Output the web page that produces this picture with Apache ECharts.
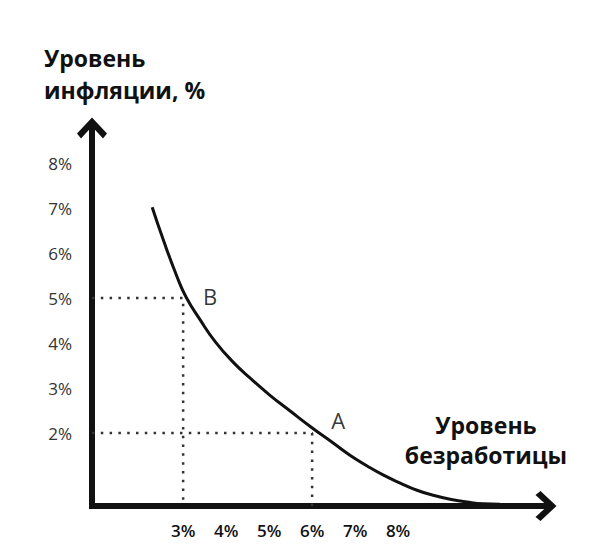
<!DOCTYPE html>
<html>
<head>
<meta charset="utf-8">
<script src="https://cdn.jsdelivr.net/npm/echarts@6/dist/echarts.min.js"></script>
<style>
  html, body { margin: 0; padding: 0; background: #fff; }
  #chart { width: 600px; height: 552px; }
</style>
</head>
<body>
<div id="chart"></div>
<script>
// Phillips curve: inflation vs unemployment
var curveX = [2.28, 2.54, 2.86, 3.07, 3.4, 3.74, 4.14, 4.56, 5.02, 5.49, 5.98, 6.49, 6.88, 7.28, 7.65, 8.05, 8.44, 8.81, 9.21, 9.6, 9.98, 10.37];
var curveY = [7.02, 6.29, 5.47, 5.02, 4.51, 4.04, 3.6, 3.22, 2.84, 2.49, 2.13, 1.78, 1.51, 1.27, 1.07, 0.89, 0.73, 0.62, 0.53, 0.47, 0.43, 0.42];

var pointNames = ['B', 'A'];
var pointX = [3, 6];
var pointY = [5, 2];

var xTicks = [3, 4, 5, 6, 7, 8];
var yTicks = [2, 3, 4, 5, 6, 7, 8];

var X_MIN = 0.88, X_MAX = 11.44;
var Y_MIN = 0.38, Y_MAX = 8.78;

(function() {
    var el = document.getElementById('chart');
    var chart = echarts.init(el, null, { renderer: 'svg' });

    var ink = '#111';
    var chevron = 'path://M15,0 L30,16 L26,21 L15,9 L4,21 L0,16 Z';

    var curve = curveX.map(function(x, i) { return [x, curveY[i]]; });
    var points = pointX.map(function(x, i) { return { name: pointNames[i], value: [x, pointY[i]] }; });

    // dotted guides from each point to both axes
    var guides = pointX.map(function(x, i) {
        return {
            type: 'line',
            data: [[X_MIN, pointY[i]], [x, pointY[i]], [x, Y_MIN]],
            showSymbol: false,
            symbol: 'none',
            lineStyle: { color: '#333', width: 2.5, type: [2.5, 6.3] },
            z: 1,
            silent: true,
            animation: false
        };
    });

    var labelOffsets = [[27, -2], [26, -13]];

    chart.setOption({
        grid: { left: 92, right: 54, top: 128, bottom: 46 },
        xAxis: {
            type: 'value',
            min: X_MIN,
            max: X_MAX,
            splitLine: { show: false },
            axisTick: { show: false },
            axisLine: {
                onZero: false,
                symbol: ['none', chevron],
                symbolSize: [30, 22],
                lineStyle: { color: ink, width: 6, cap: 'square' }
            },
            axisLabel: {
                customValues: xTicks,
                margin: 16,
                color: ink,
                fontFamily: 'Open Sans',
                fontWeight: 600,
                fontSize: 17,
                formatter: function(v) { return v + '%'; }
            }
        },
        yAxis: {
            type: 'value',
            min: Y_MIN,
            max: Y_MAX,
            splitLine: { show: false },
            axisTick: { show: false },
            axisLine: {
                onZero: false,
                symbol: ['none', chevron],
                symbolSize: [30, 22],
                lineStyle: { color: ink, width: 6, cap: 'square' }
            },
            axisLabel: {
                customValues: yTicks,
                margin: 20,
                color: '#333',
                fontFamily: 'Open Sans',
                fontSize: 17,
                formatter: function(v) { return v + '%'; }
            }
        },
        graphic: [
            {
                type: 'text',
                left: 44,
                top: 42,
                style: {
                    text: 'Уровень\nинфляции, %',
                    fill: ink,
                    font: 'bold 23px "Open Sans"',
                    lineHeight: 32
                }
            },
            {
                type: 'text',
                x: 486,
                y: 410,
                style: {
                    text: 'Уровень\nбезработицы',
                    fill: ink,
                    font: 'bold 23px "Open Sans"',
                    lineHeight: 30,
                    align: 'center',
                    verticalAlign: 'top'
                }
            }
        ],
        series: guides.concat([
            {
                type: 'line',
                data: curve,
                smooth: 0.5,
                showSymbol: false,
                symbol: 'none',
                lineStyle: { color: ink, width: 3 },
                z: 3,
                animation: false
            },
            {
                type: 'scatter',
                data: points,
                symbolSize: 0,
                z: 4,
                label: {
                    show: true,
                    position: 'inside',
                    formatter: '{b}',
                    color: '#000',
                    fontFamily: 'Open Sans',
                    fontSize: 22
                },
                labelLayout: function(params) {
                    var o = labelOffsets[params.dataIndex];
                    return { dx: o[0], dy: o[1] };
                },
                animation: false
            }
        ])
    });

    window.addEventListener('resize', function() { chart.resize(); });
})();
</script>
</body>
</html>
